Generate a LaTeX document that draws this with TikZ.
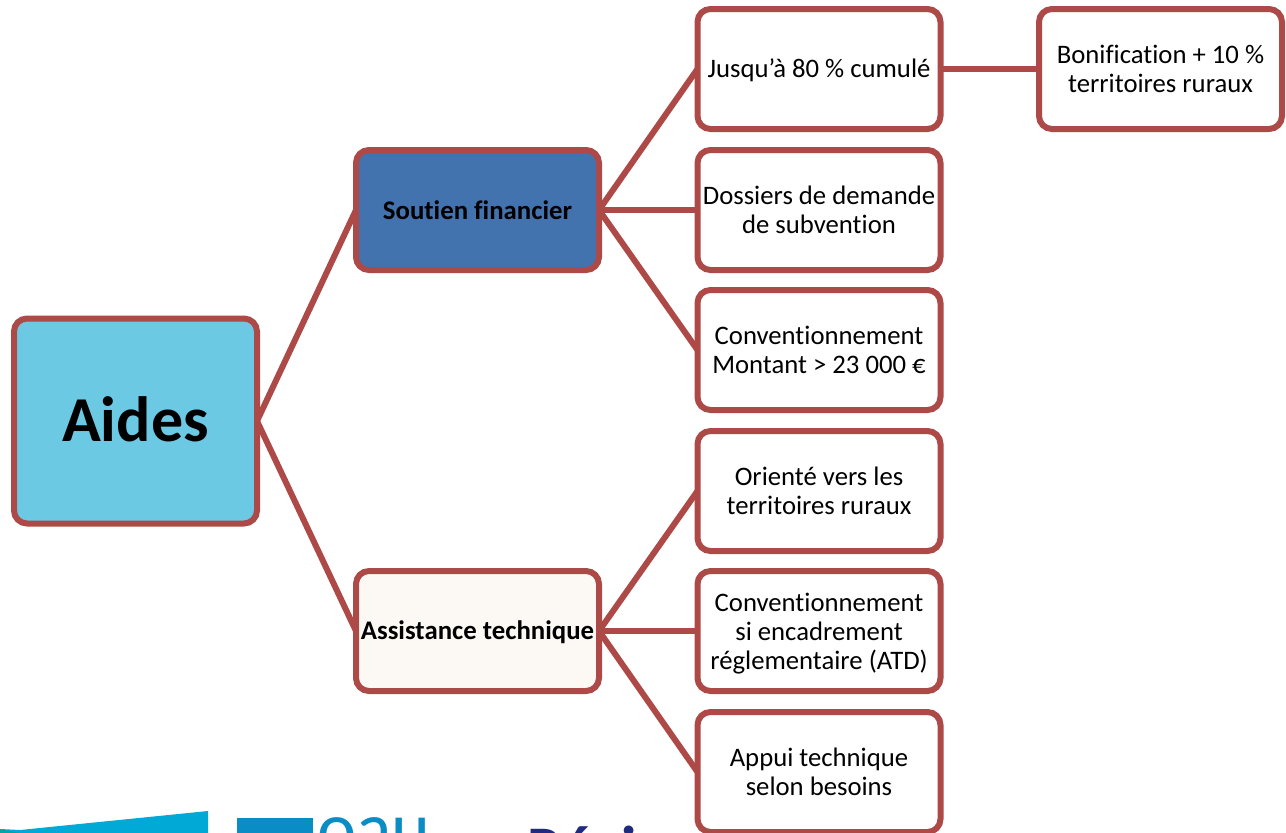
\documentclass[tikz,border=0pt]{standalone}
\usepackage{fontspec}
\setmainfont[Ligatures=NoCommon]{Carlito}
\definecolor{edgered}{HTML}{AD4A47}
\definecolor{aidesfill}{HTML}{6BC9E4}
\definecolor{soutienfill}{HTML}{4373AE}
\definecolor{assistfill}{HTML}{FCF9F5}
\definecolor{logocyan}{HTML}{00A9D6}
\definecolor{logoteal}{HTML}{00A5A5}
\definecolor{logoblue}{HTML}{0A8CC4}
\definecolor{logonavy}{HTML}{1F2A80}
\tikzset{
  box/.style={draw=edgered,line width=6pt,rounded corners=13pt,fill=white,align=center,
    minimum width=243pt,minimum height=120pt,inner sep=0pt,outer sep=0pt,font=\fontsize{26.7}{29}\selectfont,text=black},
  link/.style={draw=edgered,line width=6pt}
}
\begin{document}
\begin{tikzpicture}[x=1pt,y=-1pt]
\useasboundingbox (0,0) rectangle (1286,833);
\begin{scope}
\clip (0,0) rectangle (1286,833);
\fill[logocyan] (0,829) -- (20,830) -- (208,811) -- (208,833) -- (0,833) -- cycle;
\fill[logoteal] (0,829) -- (20,833) -- (0,833) -- cycle;
\fill[logoblue] (237,818) rectangle (313,833);
\node[anchor=base west,inner sep=0pt,text=logoblue,font=\fontsize{74}{74}\selectfont] (logotext) at (317,853) {oau};
\node[anchor=base west,inner sep=0pt,text=logonavy,font=\bfseries\fontsize{62}{62}\selectfont] (regiontext) at (527,869) {Région};
\node[box,fill=aidesfill,minimum height=205pt,text depth=4pt,font=\bfseries\fontsize{64}{70}\selectfont] (aides) at (135.5,421) {Aides};
\node[box,fill=soutienfill,font=\bfseries\fontsize{26.8}{29}\selectfont] (soutien) at (477.5,210) {Soutien financier};
\node[box,fill=assistfill,text height=22pt,font=\bfseries\fontsize{26.8}{29}\selectfont] (assist) at (477.5,631) {Assistance technique};
\node[box,text height=22pt] (jusqua) at (819,69) {Jusqu’à 80 \% cumulé};
\node[box] (dossiers) at (819,210) {Dossiers de demande\\de subvention};
\node[box] (conv) at (819,350) {Conventionnement\\Montant > 23 000 €};
\node[box] (oriente) at (819,491) {Orienté vers les\\territoires ruraux};
\node[box] (convatd) at (819,631) {\rule{0pt}{23pt}Conventionnement\\si encadrement\\réglementaire (ATD)};
\node[box] (appui) at (819,772) {Appui technique\\selon besoins};
\node[box] (bonif) at (1160.5,69) {Bonification + 10 \%\\territoires ruraux};
\foreach \a/\b in {aides/soutien,aides/assist,soutien/jusqua,soutien/dossiers,soutien/conv,assist/oriente,assist/convatd,assist/appui,jusqua/bonif}
  \draw[link] (\a.east) -- (\b.west);
\end{scope}
\end{tikzpicture}
\end{document}
